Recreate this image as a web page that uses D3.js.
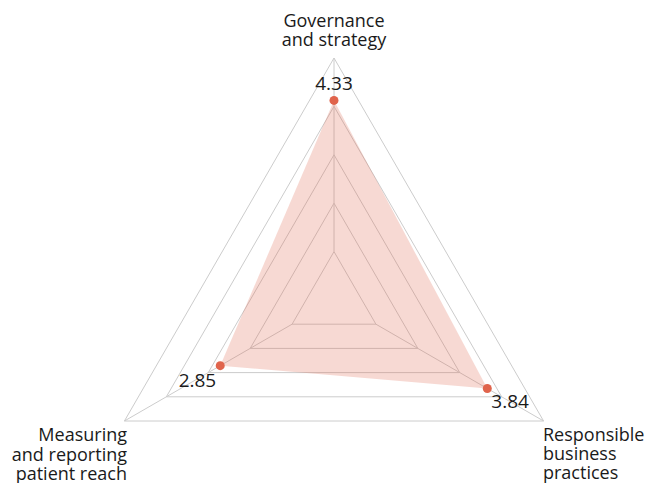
<!DOCTYPE html>
<html>
<head>
<meta charset="utf-8">
<script src="https://cdn.jsdelivr.net/npm/d3@7"></script>
<style>
  html, body { margin: 0; padding: 0; background: #fff; }
  svg { display: block; }
  text { font-family: "Open Sans", "Noto Sans", sans-serif; fill: #1a1a1a; }
</style>
</head>
<body>
<svg id="chart" width="649" height="483"></svg>
<script>
// ---- data ----
const axisLabels = [
  ["Governance", "and strategy"],
  ["Responsible", "business", "practices"],
  ["Measuring", "and reporting", "patient reach"]
];
const values = [4.33, 3.84, 2.85];
const valueLabels = ["4.33", "3.84", "2.85"];
const gridLevels = [1, 2, 3, 4, 5];
const maxValue = 5.25;

// ---- layout ----
const cx = 334, cy = 300, R = 242;
const svg = d3.select("#chart");
const g = svg.append("g").attr("transform", `translate(${cx},${cy})`);

const n = values.length;
const angle = d3.scaleLinear().domain([0, n]).range([-Math.PI / 2, 1.5 * Math.PI]);
const gridScale = d3.scaleLinear().domain([0, d3.max(gridLevels)]).range([0, R]);
const rScale = d3.scaleLinear().domain([0, maxValue]).range([0, R]);

const pt = (i, r) => [r * Math.cos(angle(i)), r * Math.sin(angle(i))];
const line = d3.line().curve(d3.curveLinearClosed);

// grid triangles
g.selectAll("path.grid")
  .data(gridLevels)
  .join("path")
  .attr("class", "grid")
  .attr("d", lv => line(d3.range(n).map(i => pt(i, gridScale(lv)))))
  .attr("fill", "none")
  .attr("stroke", "#cccccc")
  .attr("stroke-width", 1);

// spokes
g.selectAll("line.spoke")
  .data(d3.range(n))
  .join("line")
  .attr("class", "spoke")
  .attr("x1", i => pt(i, gridScale(gridLevels[0]))[0])
  .attr("y1", i => pt(i, gridScale(gridLevels[0]))[1])
  .attr("x2", i => pt(i, gridScale(d3.max(gridLevels)))[0])
  .attr("y2", i => pt(i, gridScale(d3.max(gridLevels)))[1])
  .attr("stroke", "#cccccc")
  .attr("stroke-width", 1);

// data area
g.append("path")
  .attr("d", line(values.map((v, i) => pt(i, rScale(v)))))
  .attr("fill", "#e0694f")
  .attr("fill-opacity", 0.25)
  .attr("stroke", "none");

// dots
g.selectAll("circle.dot")
  .data(values)
  .join("circle")
  .attr("class", "dot")
  .attr("cx", (v, i) => pt(i, rScale(v))[0])
  .attr("cy", (v, i) => pt(i, rScale(v))[1])
  .attr("r", 4.5)
  .attr("fill", "#e0644c");

// value labels
const vOff = [
  { dx: 0, dy: -10, anchor: "middle" },
  { dx: 4, dy: 19, anchor: "start" },
  { dx: -4, dy: 21, anchor: "end" }
];
g.selectAll("text.val")
  .data(valueLabels)
  .join("text")
  .attr("class", "val")
  .attr("x", (t, i) => pt(i, rScale(values[i]))[0] + vOff[i].dx)
  .attr("y", (t, i) => pt(i, rScale(values[i]))[1] + vOff[i].dy)
  .attr("text-anchor", (t, i) => vOff[i].anchor)
  .attr("font-size", 19)
  .text(t => t);

// axis labels (one text element per line)
const aPos = [
  { x: 0, y: 27 - cy, anchor: "middle", lh: 18.5 },
  { x: 543 - cx, y: 441 - cy, anchor: "start", lh: 19 },
  { x: 127 - cx, y: 441 - cy, anchor: "end", lh: 19.5 }
];
axisLabels.forEach((lines, i) => {
  g.selectAll(`text.ax${i}`)
    .data(lines)
    .join("text")
    .attr("class", `ax${i}`)
    .attr("x", aPos[i].x)
    .attr("y", (s, k) => aPos[i].y + k * aPos[i].lh)
    .attr("text-anchor", aPos[i].anchor)
    .attr("font-size", 18)
    .text(s => s);
});
</script>
</body>
</html>
